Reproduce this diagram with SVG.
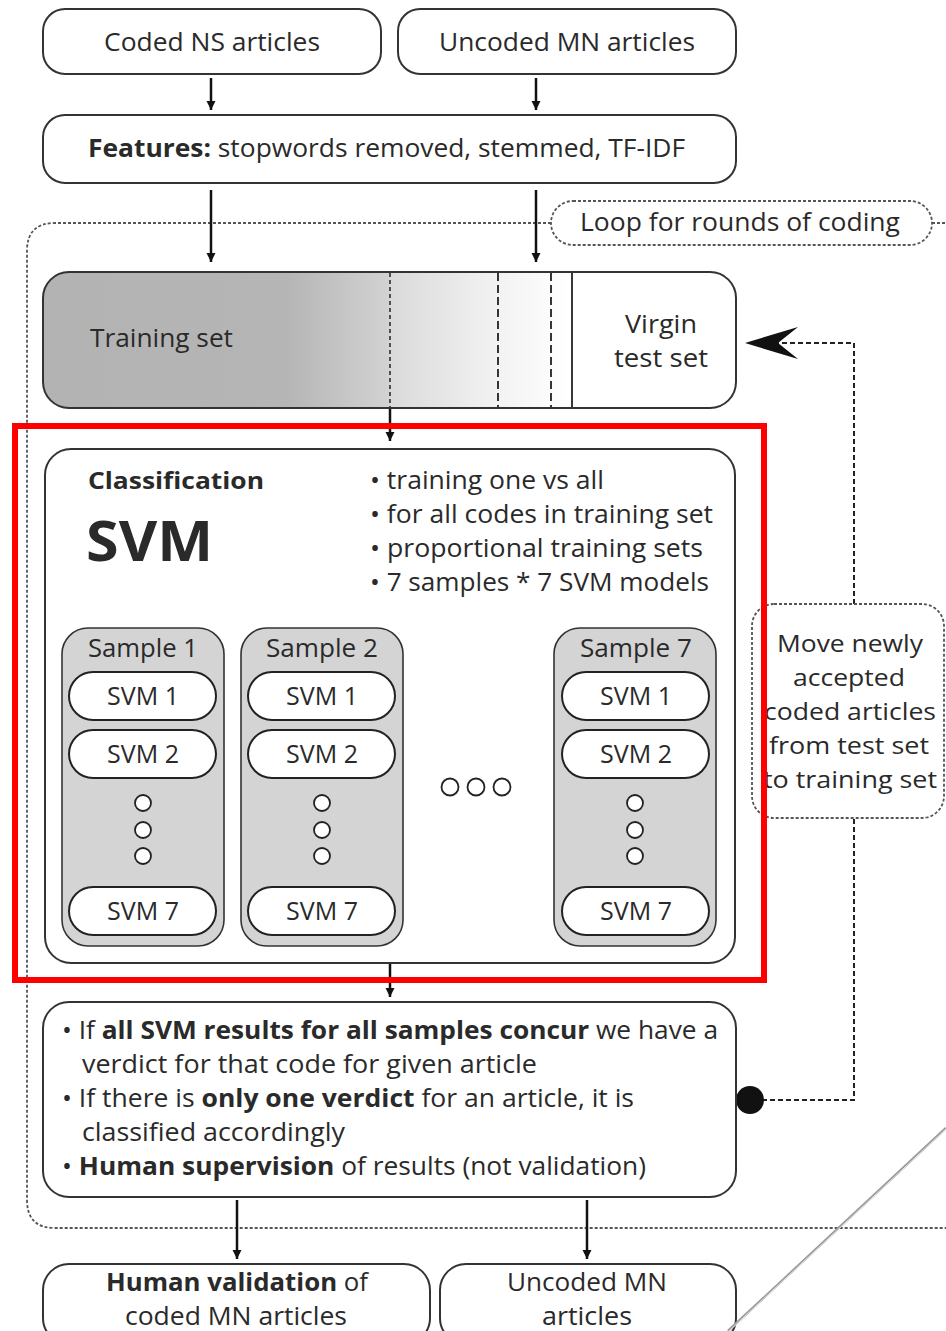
<svg xmlns="http://www.w3.org/2000/svg" width="946" height="1331" viewBox="0 0 946 1331">
  <style>
    text { font-family: "Open Sans", "Noto Sans", "DejaVu Sans", sans-serif; fill: #2a2a2a; }
    .box { fill: #ffffff; stroke: #333333; stroke-width: 2; }
    .sample { fill: #d4d4d4; stroke: #333333; stroke-width: 1.6; }
    .pill { fill: #ffffff; stroke: #222222; stroke-width: 2; }
    .dot { fill: #ffffff; stroke: #222222; stroke-width: 1.8; }
    .dotted { fill: none; stroke: #555555; stroke-width: 1.8; stroke-dasharray: 3 2; }
    .dashed { fill: none; stroke: #222222; stroke-width: 2; stroke-dasharray: 5 3; }
    .t24 { font-size: 24px; }
    .t25 { font-size: 25px; }
    .b { font-weight: bold; }
    .mid { text-anchor: middle; }
  </style>
  <defs>
    <marker id="tri" viewBox="0 0 10 10" refX="10" refY="5" markerWidth="9" markerHeight="13" markerUnits="userSpaceOnUse" orient="auto">
      <path d="M0,0 L10,5 L0,10 Z" fill="#111111"/>
    </marker>
    <linearGradient id="trainFill" gradientUnits="userSpaceOnUse" x1="43" y1="0" x2="736" y2="0">
      <stop offset="0" stop-color="#b3b3b3"/>
      <stop offset="0.35" stop-color="#b5b5b5"/>
      <stop offset="0.499" stop-color="#d2d2d2"/>
      <stop offset="0.501" stop-color="#dadada"/>
      <stop offset="0.66" stop-color="#f3f3f3"/>
      <stop offset="0.76" stop-color="#ffffff"/>
      <stop offset="1" stop-color="#ffffff"/>
    </linearGradient>
  </defs>

  <rect width="946" height="1331" fill="#ffffff"/>

  <!-- outer loop frame, broken where its label sits -->
  <g id="loop-frame">
    <path class="dotted" d="M551,223 L55,223 Q27,223 27,251 L27,1200 Q27,1228 55,1228 L946,1228"/>
    <path class="dotted" d="M932,223 L946,223"/>
  </g>

  <g id="connectors">
    <line x1="211" y1="78" x2="211" y2="110" stroke="#111" stroke-width="2.5" marker-end="url(#tri)"/>
    <line x1="536" y1="78" x2="536" y2="110" stroke="#111" stroke-width="2.5" marker-end="url(#tri)"/>
    <line x1="211" y1="190" x2="211" y2="262" stroke="#111" stroke-width="2.5" marker-end="url(#tri)"/>
    <line x1="536" y1="190" x2="536" y2="262" stroke="#111" stroke-width="2.5" marker-end="url(#tri)"/>
    <line x1="390" y1="408" x2="390" y2="441" stroke="#111" stroke-width="2.5" marker-end="url(#tri)"/>
    <line x1="390" y1="963" x2="390" y2="997" stroke="#111" stroke-width="2.5" marker-end="url(#tri)"/>
    <line x1="237" y1="1200" x2="237" y2="1259" stroke="#111" stroke-width="2.5" marker-end="url(#tri)"/>
    <line x1="587" y1="1200" x2="587" y2="1259" stroke="#111" stroke-width="2.5" marker-end="url(#tri)"/>
    <!-- feedback loop -->
    <path class="dashed" d="M762,1100 L854,1100 L854,818"/>
    <path class="dashed" d="M854,604 L854,343 L778,343"/>
    <circle cx="750" cy="1100" r="14" fill="#111111"/>
    <path d="M745,343 L798,327 L778,343 L798,359 Z" fill="#111111"/>
  </g>

  <g id="coded-ns">
    <rect class="box" x="43" y="9" width="338" height="65" rx="22"/>
    <text class="t25 mid" x="212" y="51" textLength="216" lengthAdjust="spacingAndGlyphs">Coded NS articles</text>
  </g>
  <g id="uncoded-mn">
    <rect class="box" x="398" y="9" width="338" height="65" rx="22"/>
    <text class="t25 mid" x="567" y="51" textLength="256" lengthAdjust="spacingAndGlyphs">Uncoded MN articles</text>
  </g>
  <g id="features">
    <rect class="box" x="43" y="115" width="693" height="68" rx="22"/>
    <text class="t25" x="88" y="157" textLength="597" lengthAdjust="spacingAndGlyphs"><tspan class="b">Features:</tspan> stopwords removed, stemmed, TF-IDF</text>
  </g>

  <g id="loop-label">
    <rect class="dotted" x="551" y="201" width="381" height="44" rx="22"/>
    <text class="t25 mid" x="740" y="231" textLength="320" lengthAdjust="spacingAndGlyphs">Loop for rounds of coding</text>
  </g>

  <g id="training-set">
    <rect x="43" y="272" width="693" height="136" rx="26" fill="url(#trainFill)" stroke="#333" stroke-width="2"/>
    <line x1="390" y1="273" x2="390" y2="407" stroke="#222" stroke-width="1.5" stroke-dasharray="4 3"/>
    <line x1="498" y1="273" x2="498" y2="407" stroke="#222" stroke-width="1.8" stroke-dasharray="8 4"/>
    <line x1="551" y1="273" x2="551" y2="407" stroke="#222" stroke-width="1.8" stroke-dasharray="8 4"/>
    <line x1="572" y1="273" x2="572" y2="407" stroke="#222" stroke-width="1.8"/>
    <text class="t25" x="90" y="347" textLength="143" lengthAdjust="spacingAndGlyphs">Training set</text>
    <text class="t25 mid" x="661" y="333" textLength="72" lengthAdjust="spacingAndGlyphs">Virgin</text>
    <text class="t25 mid" x="661" y="367" textLength="94" lengthAdjust="spacingAndGlyphs">test set</text>
  </g>

  <g id="classification">
    <rect class="box" x="45" y="449" width="690" height="514" rx="26"/>
    <text class="b" x="88" y="489" font-size="24" textLength="176" lengthAdjust="spacingAndGlyphs">Classification</text>
    <text class="b" x="86" y="561" font-size="56" textLength="127" lengthAdjust="spacingAndGlyphs">SVM</text>
    <text class="t25" x="370" y="489" textLength="234" lengthAdjust="spacingAndGlyphs">• training one vs all</text>
    <text class="t25" x="370" y="523" textLength="343" lengthAdjust="spacingAndGlyphs">• for all codes in training set</text>
    <text class="t25" x="370" y="557" textLength="333" lengthAdjust="spacingAndGlyphs">• proportional training sets</text>
    <text class="t25" x="370" y="591" textLength="339" lengthAdjust="spacingAndGlyphs">• 7 samples * 7 SVM models</text>
    <circle class="dot" cx="450" cy="787" r="8.5"/>
    <circle class="dot" cx="476" cy="787" r="8.5"/>
    <circle class="dot" cx="502" cy="787" r="8.5"/>
  </g>

  <g id="sample-1">
    <rect class="sample" x="62" y="628" width="162" height="318" rx="26"/>
    <text class="t25 mid" x="143" y="657" textLength="110" lengthAdjust="spacingAndGlyphs">Sample 1</text>
    <rect class="pill" x="69" y="672" width="147" height="48" rx="24"/>
    <text class="t25 mid" x="143" y="705">SVM 1</text>
    <rect class="pill" x="69" y="730" width="147" height="48" rx="24"/>
    <text class="t25 mid" x="143" y="763">SVM 2</text>
    <circle class="dot" cx="143" cy="803" r="8"/>
    <circle class="dot" cx="143" cy="830" r="8"/>
    <circle class="dot" cx="143" cy="856" r="8"/>
    <rect class="pill" x="69" y="887" width="147" height="48" rx="24"/>
    <text class="t25 mid" x="143" y="920">SVM 7</text>
  </g>
  <g id="sample-2">
    <rect class="sample" x="241" y="628" width="162" height="318" rx="26"/>
    <text class="t25 mid" x="322" y="657" textLength="112" lengthAdjust="spacingAndGlyphs">Sample 2</text>
    <rect class="pill" x="248" y="672" width="147" height="48" rx="24"/>
    <text class="t25 mid" x="322" y="705">SVM 1</text>
    <rect class="pill" x="248" y="730" width="147" height="48" rx="24"/>
    <text class="t25 mid" x="322" y="763">SVM 2</text>
    <circle class="dot" cx="322" cy="803" r="8"/>
    <circle class="dot" cx="322" cy="830" r="8"/>
    <circle class="dot" cx="322" cy="856" r="8"/>
    <rect class="pill" x="248" y="887" width="147" height="48" rx="24"/>
    <text class="t25 mid" x="322" y="920">SVM 7</text>
  </g>
  <g id="sample-7">
    <rect class="sample" x="554" y="628" width="162" height="318" rx="26"/>
    <text class="t25 mid" x="636" y="657" textLength="112" lengthAdjust="spacingAndGlyphs">Sample 7</text>
    <rect class="pill" x="562" y="672" width="147" height="48" rx="24"/>
    <text class="t25 mid" x="636" y="705">SVM 1</text>
    <rect class="pill" x="562" y="730" width="147" height="48" rx="24"/>
    <text class="t25 mid" x="636" y="763">SVM 2</text>
    <circle class="dot" cx="635" cy="803" r="8"/>
    <circle class="dot" cx="635" cy="830" r="8"/>
    <circle class="dot" cx="635" cy="856" r="8"/>
    <rect class="pill" x="562" y="887" width="147" height="48" rx="24"/>
    <text class="t25 mid" x="636" y="920">SVM 7</text>
  </g>

  <g id="move-articles">
    <rect class="dotted" x="752" y="604" width="192" height="214" rx="22"/>
    <text class="t24 mid" x="850" y="652" textLength="146" lengthAdjust="spacingAndGlyphs">Move newly</text>
    <text class="t24 mid" x="849" y="686" textLength="112" lengthAdjust="spacingAndGlyphs">accepted</text>
    <text class="t24 mid" x="850" y="720" textLength="172" lengthAdjust="spacingAndGlyphs">coded articles</text>
    <text class="t24 mid" x="849" y="754" textLength="160" lengthAdjust="spacingAndGlyphs">from test set</text>
    <text class="t24 mid" x="850" y="788" textLength="174" lengthAdjust="spacingAndGlyphs">to training set</text>
  </g>

  <!-- highlight frame around the classification stage -->
  <rect id="highlight" x="15" y="426" width="749" height="554" fill="none" stroke="#ff0000" stroke-width="6"/>

  <g id="results">
    <rect class="box" x="43" y="1002" width="693" height="195" rx="26"/>
    <text class="t25" x="62" y="1039" textLength="656" lengthAdjust="spacingAndGlyphs">• If <tspan class="b">all SVM results for all samples concur</tspan> we have a</text>
    <text class="t25" x="82" y="1073" textLength="455" lengthAdjust="spacingAndGlyphs">verdict for that code for given article</text>
    <text class="t25" x="62" y="1107" textLength="572" lengthAdjust="spacingAndGlyphs">• If there is <tspan class="b">only one verdict</tspan> for an article, it is</text>
    <text class="t25" x="82" y="1141" textLength="263" lengthAdjust="spacingAndGlyphs">classified accordingly</text>
    <text class="t25" x="62" y="1175" textLength="584" lengthAdjust="spacingAndGlyphs">• <tspan class="b">Human supervision</tspan> of results (not validation)</text>
  </g>

  <g id="human-validation">
    <rect class="box" x="43" y="1264" width="387" height="80" rx="26"/>
    <text class="t25 mid" x="237" y="1291" textLength="262" lengthAdjust="spacingAndGlyphs"><tspan class="b">Human validation</tspan> of</text>
    <text class="t25 mid" x="236" y="1325" textLength="222" lengthAdjust="spacingAndGlyphs">coded MN articles</text>
  </g>
  <g id="uncoded-mn-out">
    <rect class="box" x="440" y="1264" width="296" height="80" rx="26"/>
    <text class="t25 mid" x="587" y="1291" textLength="160" lengthAdjust="spacingAndGlyphs">Uncoded MN</text>
    <text class="t25 mid" x="587" y="1325" textLength="90" lengthAdjust="spacingAndGlyphs">articles</text>
  </g>

  <!-- stray diagonal stroke at the lower right -->
  <line x1="728" y1="1331" x2="946" y2="1128" stroke="#9a9a9a" stroke-width="2.5"/>
  <line x1="729" y1="1331" x2="946" y2="1129" stroke="#e6e6e6" stroke-width="1"/>
</svg>
